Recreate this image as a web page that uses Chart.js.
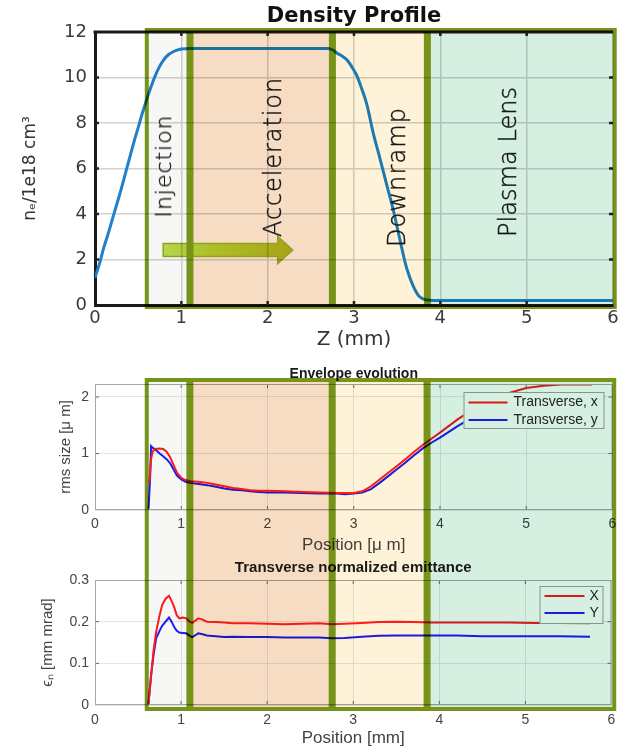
<!DOCTYPE html>
<html><head><meta charset="utf-8">
<script src="https://cdn.jsdelivr.net/npm/chart.js@4.4.1/dist/chart.umd.min.js"></script>
<style>
html,body{margin:0;padding:0;background:#fff;}
#wrap{position:relative;width:622px;height:749px;overflow:hidden;background:#fff;}
#wrap canvas{position:absolute;left:0;}
#c1{top:0;}
#c2{top:362px;}
#c3{top:557px;}
#ov{top:0;z-index:5;pointer-events:none;mix-blend-mode:multiply;}
.lbl{position:absolute;z-index:6;font-family:'DejaVu Sans',sans-serif;font-weight:200;color:#151515;-webkit-text-stroke:0.4px #151515;white-space:nowrap;line-height:1;transform:translate(-50%,-50%) rotate(-90deg);}
</style></head>
<body><div id="wrap">
<canvas id="c1" width="622" height="355"></canvas>
<canvas id="c2" width="622" height="195"></canvas>
<canvas id="c3" width="622" height="192"></canvas>
<canvas id="ov" width="622" height="749"></canvas>
</div>
<script>
// ---------------- data ----------------
// Density profile (Z in mm, n_e in 1e18 cm^-3)
const densZ = [0,0.05,0.1,0.15,0.2,0.25,0.3,0.35,0.4,0.45,0.5,0.55,0.6,0.65,0.7,0.75,0.8,0.85,0.9,0.95,1.0,1.1,1.5,2.0,2.5,2.7,2.75,2.8,2.86,2.92,2.97,3.03,3.09,3.15,3.22,3.3,3.38,3.46,3.53,3.61,3.69,3.76,3.84,3.92,4.5,5.0,5.5,6.0];
const densN = [1.2,1.8,2.5,3.1,3.75,4.4,5.05,5.75,6.45,7.15,7.8,8.45,9.05,9.6,10.1,10.5,10.8,11.0,11.12,11.2,11.25,11.28,11.28,11.28,11.28,11.28,11.22,11.08,10.95,10.77,10.5,10.1,9.5,8.8,7.6,6.45,5.27,4.1,2.9,1.62,0.8,0.36,0.22,0.2,0.2,0.2,0.2,0.2];

// Envelope evolution (position, rms size)
const envZ = [0.62,0.63,0.64,0.65,0.67,0.7,0.75,0.79,0.83,0.87,0.91,0.95,1.0,1.05,1.1,1.2,1.3,1.4,1.5,1.6,1.7,1.8,1.9,2.0,2.2,2.4,2.6,2.8,2.9,3.0,3.1,3.2,3.3,3.4,3.5,3.6,3.7,3.8,3.9,4.0,4.2,4.4,4.6,4.8,5.0,5.2,5.4,5.6,5.76];
const rmsX = [null,0.48,0.7,0.9,1.04,1.08,1.09,1.08,1.03,0.94,0.8,0.66,0.57,0.53,0.51,0.5,0.48,0.45,0.42,0.39,0.37,0.35,0.34,0.34,0.33,0.32,0.31,0.3,0.3,0.3,0.33,0.42,0.54,0.66,0.78,0.9,1.03,1.15,1.26,1.37,1.6,1.8,1.96,2.07,2.16,2.2,2.22,2.22,2.22];
const rmsY = [0.0,0.3,0.6,1.13,1.1,1.07,1.0,0.95,0.9,0.83,0.72,0.61,0.54,0.5,0.48,0.46,0.44,0.41,0.38,0.36,0.35,0.33,0.32,0.31,0.31,0.3,0.29,0.29,0.28,0.29,0.31,0.37,0.48,0.6,0.72,0.84,0.97,1.09,1.19,1.28,1.48,1.66,1.82,1.93,2.0,2.04,2.05,2.05,2.05];

// Transverse normalized emittance (position, mm mrad)
const emZ = [0.62,0.65,0.68,0.71,0.75,0.78,0.82,0.86,0.89,0.92,0.95,0.98,1.02,1.06,1.1,1.13,1.17,1.2,1.25,1.3,1.4,1.5,1.6,1.8,2.0,2.2,2.4,2.6,2.75,2.9,3.1,3.3,3.5,3.7,3.9,4.2,4.5,4.8,5.1,5.4,5.75];
const emitX = [0.0,0.065,0.13,0.175,0.215,0.24,0.255,0.262,0.25,0.235,0.215,0.208,0.21,0.208,0.2,0.197,0.203,0.208,0.205,0.2,0.199,0.198,0.196,0.196,0.195,0.194,0.195,0.196,0.194,0.195,0.197,0.199,0.2,0.199,0.198,0.198,0.198,0.198,0.197,0.197,0.196];
const emitY = [0.0,0.07,0.12,0.16,0.178,0.19,0.2,0.21,0.2,0.187,0.178,0.174,0.173,0.172,0.166,0.163,0.168,0.172,0.17,0.167,0.165,0.163,0.164,0.163,0.163,0.162,0.162,0.162,0.16,0.161,0.164,0.166,0.167,0.167,0.167,0.167,0.165,0.165,0.165,0.165,0.164];

// Stage regions (edges in mm) and annotations (data coordinates of the density chart)
const regionEdges = [0.6, 1.1, 2.75, 3.85, 6.02];
const regionNames = ['Injection','Acceleration','Downramp','Plasma Lens'];
const labelAnchors = [[0.8,6.09],[2.06,6.52],[3.5,5.63],[4.78,6.3]];
const arrowFrom = [0.79, 2.42];
const arrowTo = [2.29, 2.42];

// ---------------- styles ----------------
const regionFills = ['#f7f7f5','#f7dcc4','#fef2d8','#d5efe1'];
const labelFontPx = [22, 24, 24, 24];
const labelLenPx = [103, 160, 140, 150];
const C2_TOP = 362, C3_TOP = 557;
const LS = "'Liberation Sans', Arial, sans-serif";
const DJ = "'DejaVu Sans', Verdana, sans-serif";

function pts(xs, ys){ return xs.map((x,i)=>({x:x, y:ys[i]})); }

const frameTicks = {
  id:'frameTicks',
  afterDraw(chart, args, o){
    const {ctx, chartArea:a, scales:{x,y}} = chart;
    ctx.save();
    ctx.strokeStyle = o.tickColor; ctx.lineWidth = o.tickWidth;
    ctx.beginPath();
    x.ticks.forEach(t=>{ const p = x.getPixelForValue(t.value);
      if (p <= a.left+2 || p >= a.right-2) return;
      ctx.moveTo(p, a.bottom); ctx.lineTo(p, a.bottom - o.len);
      ctx.moveTo(p, a.top); ctx.lineTo(p, a.top + o.len); });
    y.ticks.forEach(t=>{ const p = y.getPixelForValue(t.value);
      if (p <= a.top+2 || p >= a.bottom-2) return;
      ctx.moveTo(a.left, p); ctx.lineTo(a.left + o.len, p);
      ctx.moveTo(a.right, p); ctx.lineTo(a.right - o.len, p); });
    ctx.stroke();
    if (o.box) { ctx.strokeStyle = o.boxColor; ctx.lineWidth = o.boxWidth; ctx.strokeRect(a.left+0.5, a.top+0.5, a.width-1, a.height-1); }
    if (o.topLine) { ctx.strokeStyle = o.topColor; ctx.lineWidth = o.topWidth; ctx.beginPath(); ctx.moveTo(a.left-1.5, a.top); ctx.lineTo(a.right, a.top); ctx.stroke(); }
    ctx.restore();
  }
};

const boxLegend = {
  id:'boxLegend',
  afterDraw(chart, args, o){
    const {ctx, chartArea:a} = chart;
    const x0 = a.right - o.right - o.width, y0 = a.top + o.top;
    ctx.save();
    ctx.fillStyle = '#fff'; ctx.fillRect(x0, y0, o.width, o.height);
    ctx.strokeStyle = '#a0a0a0'; ctx.lineWidth = 1; ctx.strokeRect(x0+0.5, y0+0.5, o.width, o.height);
    ctx.font = o.font; ctx.textBaseline = 'middle'; ctx.textAlign = 'left';
    chart.data.datasets.forEach((d,i)=>{
      const yy = y0 + o.rowTop + i*o.rowGap;
      ctx.strokeStyle = d.borderColor; ctx.lineWidth = 2;
      ctx.beginPath(); ctx.moveTo(x0+o.lineStart, yy); ctx.lineTo(x0+o.lineStart+o.lineLen, yy); ctx.stroke();
      ctx.fillStyle = '#262626'; ctx.fillText(d.label, x0+o.textX, yy);
    });
    ctx.restore();
  }
};

// ---------------- chart 1: density profile ----------------
const ch1 = new Chart(document.getElementById('c1'), {
  type:'line',
  data:{datasets:[{label:'Density', data:pts(densZ,densN), borderColor:'#1e80cf', borderWidth:3, pointRadius:0, cubicInterpolationMode:'monotone', fill:false}]},
  options:{
    responsive:false, animation:false, events:[],
    layout:{padding:{left:0,right:9,top:0,bottom:0}},
    plugins:{
      legend:{display:false}, tooltip:{enabled:false},
      title:{display:true, fullSize:false, text:'Density Profile', color:'#111', font:{family:DJ, size:21, weight:'bold'}, padding:{top:4.4, bottom:2.4}},
      frameTicks:{tickColor:'#222', tickWidth:2.5, len:4, topLine:true, topColor:'#1a1a1a', topWidth:3}
    },
    scales:{
      x:{type:'linear', min:0, max:6,
         ticks:{stepSize:1, color:'#3a3a3a', font:{family:DJ,size:18}, padding:3},
         grid:{color:'#d2d2d2', lineWidth:1.5, drawTicks:false}, border:{color:'#1a1a1a', width:3},
         title:{display:true, text:'Z (mm)', color:'#333', font:{family:DJ,size:20}, padding:{top:0,bottom:3}},
         afterFit(s){ s.height = 50; }},
      y:{type:'linear', min:0, max:12,
         ticks:{stepSize:2, color:'#3a3a3a', font:{family:DJ,size:18}, padding:8},
         grid:{color:'#d2d2d2', lineWidth:1.5, drawTicks:false}, border:{color:'#1a1a1a', width:3},
         title:{display:true, text:'nₑ/1e18 cm³', color:'#333', font:{family:DJ,size:17}, padding:{top:20,bottom:0}},
         afterFit(s){ s.width = 95; }}
    }
  },
  plugins:[frameTicks]
});

// ---------------- chart 2: envelope evolution ----------------
const lowerX = (title, tickPad, titlePad, h) => ({
  type:'linear', min:0, max:6,
  ticks:{stepSize:1, color:'#444', font:{family:LS,size:14}, padding:tickPad},
  grid:{color:'#e4e4e4', lineWidth:1, drawTicks:false}, border:{display:false},
  title:{display:true, text:title, color:'#444', font:{family:LS,size:17}, padding:{top:0,bottom:titlePad}},
  afterFit(s){ s.height = h; }
});

const ch2 = new Chart(document.getElementById('c2'), {
  type:'line',
  data:{datasets:[
    {label:'Transverse, x', data:pts(envZ,rmsX), borderColor:'#ff1c1c', borderWidth:2, pointRadius:0},
    {label:'Transverse, y', data:pts(envZ,rmsY), borderColor:'#1c1cff', borderWidth:2, pointRadius:0}
  ]},
  options:{
    responsive:false, animation:false, events:[],
    layout:{padding:{left:0,right:8,top:0,bottom:0}},
    plugins:{
      legend:{display:false}, tooltip:{enabled:false},
      title:{display:true, fullSize:false, text:'Envelope evolution', color:'#1a1a1a', font:{family:LS,size:14,weight:'bold'}, padding:{top:3.6,bottom:1.6}},
      frameTicks:{tickColor:'#666', tickWidth:1, len:4, box:true, boxColor:'#a6a6a6', boxWidth:1},
      boxLegend:{width:140, height:36, right:9, top:8, rowTop:10.5, rowGap:17.5, lineStart:5, lineLen:39, textX:50, font:"14px 'Liberation Sans', Arial, sans-serif"}
    },
    scales:{
      x: lowerX('Position [μ m]', 5.6, 1.8, 47),
      y:{type:'linear', min:0, max:2.23,
         ticks:{stepSize:1, includeBounds:false, color:'#444', font:{family:LS,size:14}, padding:6},
         grid:{color:'#e4e4e4', lineWidth:1, drawTicks:false}, border:{display:false},
         title:{display:true, text:'rms size [μ m]', color:'#444', font:{family:LS,size:15}, padding:{top:57,bottom:0}},
         afterFit(s){ s.width = 95; }}
    }
  },
  plugins:[frameTicks, boxLegend]
});

// ---------------- chart 3: emittance ----------------
const ch3 = new Chart(document.getElementById('c3'), {
  type:'line',
  data:{datasets:[
    {label:'X', data:pts(emZ,emitX), borderColor:'#ff1c1c', borderWidth:2, pointRadius:0},
    {label:'Y', data:pts(emZ,emitY), borderColor:'#1c1cff', borderWidth:2, pointRadius:0}
  ]},
  options:{
    responsive:false, animation:false, events:[],
    layout:{padding:{left:0,right:8,top:0,bottom:0}},
    plugins:{
      legend:{display:false}, tooltip:{enabled:false},
      title:{display:true, fullSize:false, text:'Transverse normalized emittance', color:'#1a1a1a', font:{family:LS,size:15,weight:'bold'}, padding:{top:2,bottom:3}},
      frameTicks:{tickColor:'#666', tickWidth:1, len:4, box:true, boxColor:'#a6a6a6', boxWidth:1},
      boxLegend:{width:63, height:37, right:9, top:6, rowTop:10, rowGap:17, lineStart:5, lineLen:40, textX:50, font:"14px 'Liberation Sans', Arial, sans-serif"}
    },
    scales:{
      x: lowerX('Position [mm]', 6.6, 0.8, 44),
      y:{type:'linear', min:0, max:0.3,
         ticks:{stepSize:0.1, color:'#444', font:{family:LS,size:14}, padding:6},
         grid:{color:'#e4e4e4', lineWidth:1, drawTicks:false}, border:{display:false},
         title:{display:true, text:'ϵₙ [mm mrad]', color:'#444', font:{family:LS,size:15}, padding:{top:39,bottom:0}},
         afterFit(s){ s.width = 95; }}
    }
  },
  plugins:[frameTicks, boxLegend]
});

// ---------------- overlay: stage regions, boxes, arrow, labels ----------------
const ov = document.getElementById('ov').getContext('2d');
const sx1 = ch1.scales.x, sy1 = ch1.scales.y, sx2 = ch2.scales.x;
const bands = [
  {xs:sx1, y0:ch1.chartArea.top - 2, y1:ch1.chartArea.bottom + 2},
  {xs:sx2, y0:C2_TOP + ch2.chartArea.top - 4, y1:C3_TOP + ch3.chartArea.bottom + 4}
];
bands.forEach(b=>{
  for (let i=0;i<regionNames.length;i++){
    const xa = b.xs.getPixelForValue(regionEdges[i]), xb = b.xs.getPixelForValue(regionEdges[i+1]);
    ov.fillStyle = regionFills[i];
    ov.fillRect(xa, b.y0, xb-xa, b.y1-b.y0);
  }
});

// arrow
(function(){
  const ax0 = sx1.getPixelForValue(arrowFrom[0]), ax1 = sx1.getPixelForValue(arrowTo[0]);
  const ay = sy1.getPixelForValue(arrowFrom[1]);
  const sh = 6.5, hh = 13.5, hl = 15;
  const g = ov.createLinearGradient(ax0,0,ax1,0);
  g.addColorStop(0,'#b4d84c'); g.addColorStop(0.35,'#adc02a'); g.addColorStop(1,'#a9a416');
  ov.beginPath();
  ov.moveTo(ax0, ay-sh); ov.lineTo(ax1-hl, ay-sh); ov.lineTo(ax1-hl, ay-hh); ov.lineTo(ax1, ay);
  ov.lineTo(ax1-hl, ay+hh); ov.lineTo(ax1-hl, ay+sh); ov.lineTo(ax0, ay+sh); ov.closePath();
  ov.fillStyle = g; ov.fill();
  ov.strokeStyle = '#90a020'; ov.lineWidth = 1.5; ov.stroke();
})();

// green stage boxes
ov.strokeStyle = '#77931a'; ov.lineWidth = 4;
bands.forEach(b=>{
  for (let i=0;i<regionNames.length;i++){
    let xa = b.xs.getPixelForValue(regionEdges[i]), xb = b.xs.getPixelForValue(regionEdges[i+1]);
    if (i>0) xa += 1.5;
    if (i<regionNames.length-1) xb -= 1.5;
    ov.strokeRect(xa, b.y0, xb-xa, b.y1-b.y0);
  }
});

// stage labels (real text, rotated)
const wrap = document.getElementById('wrap');
const mctx = document.createElement('canvas').getContext('2d');
regionNames.forEach((name,i)=>{
  const d = document.createElement('div');
  d.className = 'lbl'; d.textContent = name;
  const fs = labelFontPx[i];
  mctx.font = "200 " + fs + "px 'DejaVu Sans', sans-serif";
  const w = mctx.measureText(name).width;
  d.style.fontSize = fs + 'px';
  d.style.letterSpacing = ((labelLenPx[i] - w) / name.length) + 'px';
  d.style.left = sx1.getPixelForValue(labelAnchors[i][0]) + 'px';
  d.style.top = sy1.getPixelForValue(labelAnchors[i][1]) + 'px';
  wrap.appendChild(d);
});
</script>
</body></html>
